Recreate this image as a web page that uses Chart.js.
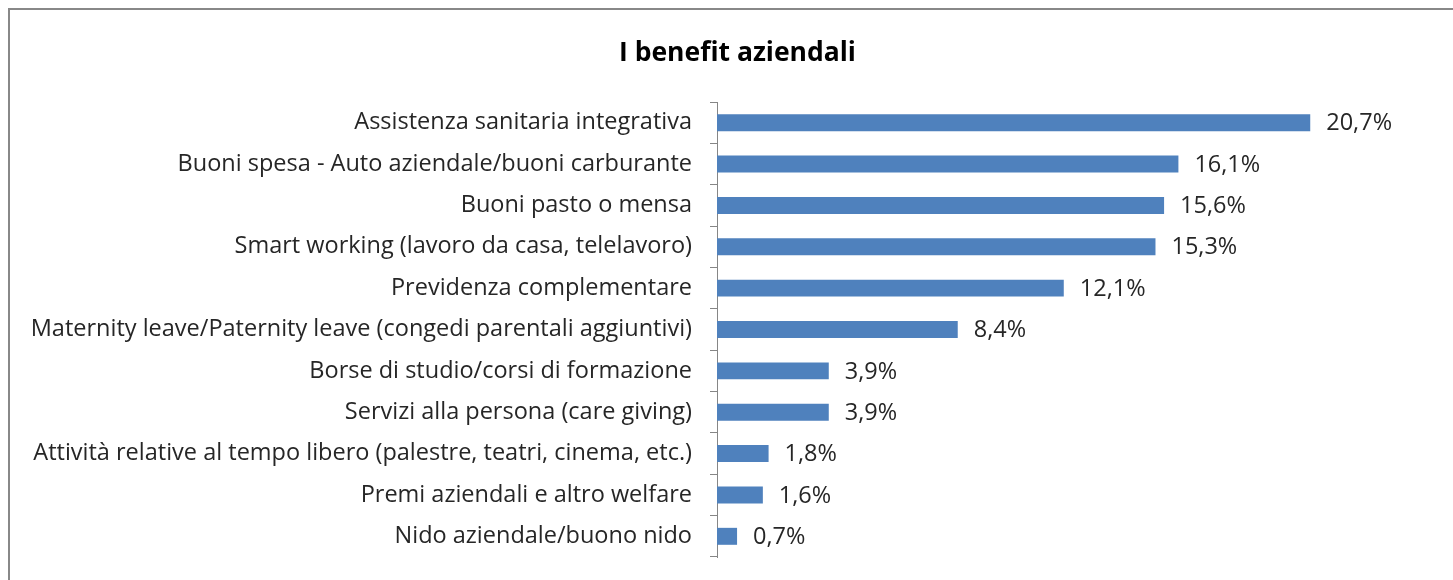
<!DOCTYPE html>
<html>
<head>
<meta charset="utf-8">
<script src="https://cdn.jsdelivr.net/npm/chart.js@4.4.0/dist/chart.umd.min.js"></script>
<style>
    html, body { margin: 0; padding: 0; background: #fff; overflow: hidden; }
    #cornice {
        position: absolute; left: 8px; top: 8px;
        width: 1480px; height: 600px;
        border: 2px solid #888888;
    }
    #box { position: absolute; left: 10px; top: 10px; width: 1455px; height: 570px; }
</style>
</head>
<body>
<div id="cornice"></div>
<div id="box"><canvas id="graficaBenefit"></canvas></div>
<script>
// categorie (dall'alto verso il basso)
const categorie = [
    "Assistenza sanitaria integrativa",
    "Buoni spesa - Auto aziendale/buoni carburante",
    "Buoni pasto o mensa",
    "Smart working (lavoro da casa, telelavoro)",
    "Previdenza complementare",
    "Maternity leave/Paternity leave (congedi parentali aggiuntivi)",
    "Borse di studio/corsi di formazione",
    "Servizi alla persona (care giving)",
    "Attività relative al tempo libero (palestre, teatri, cinema, etc.)",
    "Premi aziendali e altro welfare",
    "Nido aziendale/buono nido"
];
// percentuali
const percentuali = [20.7, 16.1, 15.6, 15.3, 12.1, 8.4, 3.9, 3.9, 1.8, 1.6, 0.7];

const FONT = "'Open Sans', 'DejaVu Sans', sans-serif";

// etichette con il valore a destra delle barre
const etichetteValori = {
    id: "etichetteValori",
    afterDatasetsDraw(chart) {
        const ctx = chart.ctx;
        const meta = chart.getDatasetMeta(0);
        ctx.save();
        ctx.font = "23.5px " + FONT;
        ctx.fillStyle = "#262626";
        ctx.textAlign = "left";
        ctx.textBaseline = "middle";
        meta.data.forEach((bar, i) => {
            const testo = percentuali[i].toFixed(1).replace(".", ",") + "%";
            ctx.fillText(testo, bar.x + 16, bar.y + 1);
        });
        ctx.restore();
    }
};

const ctx = document.getElementById("graficaBenefit").getContext("2d");
new Chart(ctx, {
    type: "bar",
    data: {
        labels: categorie,
        datasets: [
            {
                data: percentuali,
                backgroundColor: "#4f81bd",
                borderWidth: 0,
                barPercentage: 0.41,
                categoryPercentage: 1,
            },
        ],
    },
    plugins: [etichetteValori],
    options: {
        indexAxis: "y",
        responsive: true,
        maintainAspectRatio: false,
        animation: false,
        layout: { padding: { left: 0, right: 0, top: 0, bottom: 23 } },
        plugins: {
            legend: { display: false },
            tooltip: { enabled: false },
            title: {
                display: true,
                text: "I benefit aziendali",
                color: "#000",
                font: { family: FONT, size: 26.5, weight: "bold", lineHeight: 1.2 },
                padding: { top: 28, bottom: 32.2 },
            },
        },
        scales: {
            x: { display: false, min: 0, max: 26.1 },
            y: {
                afterFit: (scale) => {
                    scale.width = 707; // asse verticale a x = 717
                    scale.paddingTop = 0;
                    scale.paddingBottom = 0;
                },
                grid: {
                    offset: true,
                    drawOnChartArea: false,
                    tickLength: 7,
                    color: "#868686",
                },
                border: { color: "#868686", width: 1 },
                ticks: {
                    padding: 18,
                    color: "#262626",
                    font: { family: FONT, size: 23.5 },
                },
            },
        },
    },
});
</script>
</body>
</html>
